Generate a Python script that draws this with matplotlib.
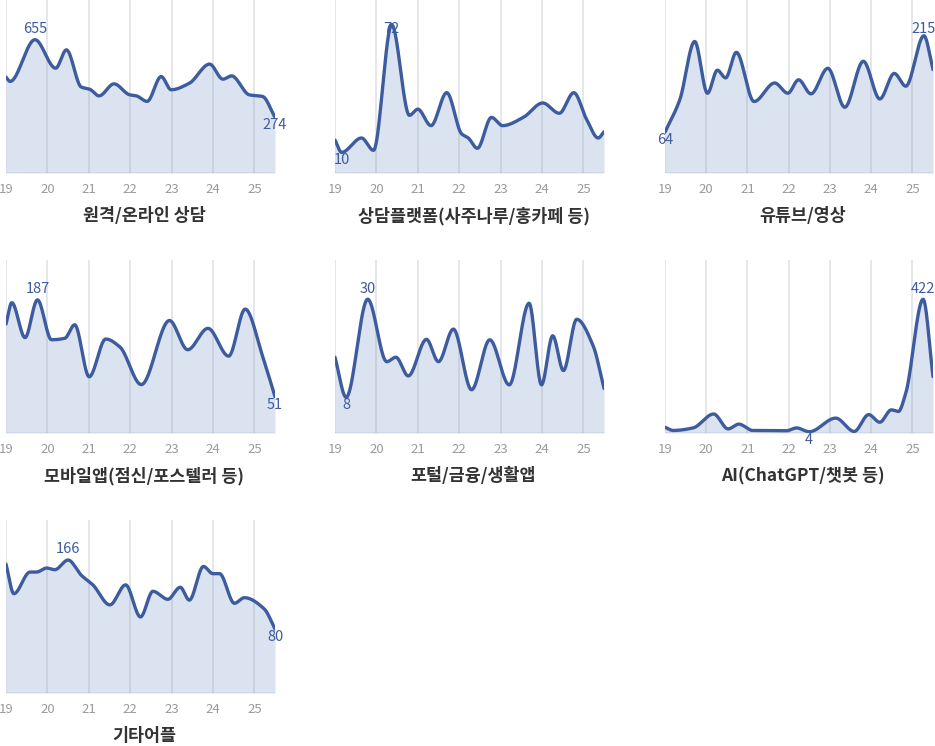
import numpy as np
import matplotlib
matplotlib.use('Agg')
import matplotlib.pyplot as plt
import matplotlib.transforms as mtransforms

plt.rcParams['font.family'] = ['Noto Sans CJK KR', 'DejaVu Sans']

# panel titles
titles = ['원격/온라인 상담', '상담플랫폼(사주나루/홍카페 등)', '유튜브/영상',
          '모바일앱(점신/포스텔러 등)', '포털/금융/생활앱', 'AI(ChatGPT/챗봇 등)',
          '기타어플']

# time (year, 19 = 2019) and values
t_remote = [19.0, 19.10, 19.70, 20.20, 20.46, 20.82, 21.02, 21.25, 21.61, 21.99, 22.15,
            22.41, 22.75, 22.99, 23.43, 23.92, 24.24, 24.45, 24.88, 25.20, 25.5]
v_remote = [471, 450, 655, 515, 605, 422, 412, 379, 438, 384, 379,
            352, 474, 409, 441, 535, 461, 477, 384, 376, 274]

t_platform = [19.0, 19.16, 19.64, 19.93, 20.37, 20.80, 21.0, 21.32, 21.70, 22.06, 22.22,
              22.44, 22.78, 23.05, 23.55, 24.02, 24.42, 24.77, 25.08, 25.36, 25.5]
v_platform = [16, 10, 17, 11, 72, 28, 31, 23, 39, 19, 17,
              12, 27, 23, 27, 34, 29, 39, 26, 17, 20]

t_youtube = [19.0, 19.36, 19.72, 20.03, 20.27, 20.47, 20.73, 21.16, 21.66, 21.98,
             22.24, 22.54, 22.95, 23.36, 23.81, 24.21, 24.56, 24.84, 25.28, 25.5]
v_youtube = [64, 115, 206, 125, 161, 149, 189, 112, 141, 125,
             146, 124, 164, 103, 175, 116, 156, 136, 215, 162]

t_mobile = [19.0, 19.14, 19.46, 19.76, 20.10, 20.42, 20.66, 21.01, 21.41, 21.75,
            22.27, 22.95, 23.39, 23.88, 24.38, 24.78, 25.2, 25.5]
v_mobile = [153, 183, 134, 187, 131, 133, 152, 79, 132, 121,
            68, 158, 117, 147, 108, 174, 108, 51]

t_portal = [19.0, 19.27, 19.79, 20.25, 20.47, 20.77, 21.21, 21.50, 21.86, 22.30,
            22.74, 23.21, 23.69, 23.99, 24.26, 24.52, 24.84, 25.24, 25.5]
v_portal = [17, 8, 30, 16, 17, 12.8, 21, 16, 23.3, 9.7,
            20.9, 10.8, 29.1, 10.8, 21.8, 14, 25.5, 19.5, 10]

t_ai = [19.0, 19.2, 19.68, 20.18, 20.53, 20.79, 21.13, 21.53, 21.94, 22.19, 22.5,
        23.14, 23.59, 23.94, 24.21, 24.49, 24.66, 24.84, 25.26, 25.5]
v_ai = [18, 8, 16, 60, 13, 28, 8, 8, 7, 16, 4,
        47, 5, 58, 34, 73, 68, 126, 422, 178]

t_other = [19.0, 19.19, 19.58, 19.74, 19.98, 20.18, 20.50, 20.82, 21.10, 21.51, 21.89,
           22.25, 22.55, 22.91, 23.21, 23.43, 23.77, 24.0, 24.16, 24.52, 24.76, 25.24, 25.5]
v_other = [161, 124, 151, 151, 156, 154, 166, 147, 135, 110, 135,
           95, 127, 117, 132, 116, 158, 149, 149, 112, 119, 105, 80]

times = [t_remote, t_platform, t_youtube, t_mobile, t_portal, t_ai, t_other]
values = [v_remote, v_platform, v_youtube, v_mobile, v_portal, v_ai, v_other]
y_tops = [850, 84, 271, 243, 38.8, 546, 216]

years = [19, 20, 21, 22, 23, 24, 25]

LINE = '#3d5c9e'
FILL = '#dce3f0'


def pchip(x, y, xs):
    # monotone cubic (Fritsch-Carlson) for a smooth curve through the points
    x = np.asarray(x, float)
    y = np.asarray(y, float)
    h = np.diff(x)
    d = np.diff(y) / h
    m = np.zeros_like(y)
    m[0] = d[0]
    m[-1] = d[-1]
    for k in range(1, len(x) - 1):
        if d[k - 1] * d[k] > 0:
            w1 = 2 * h[k] + h[k - 1]
            w2 = h[k] + 2 * h[k - 1]
            m[k] = (w1 + w2) / (w1 / d[k - 1] + w2 / d[k])
    idx = np.clip(np.searchsorted(x, xs) - 1, 0, len(x) - 2)
    hk = h[idx]
    s = (xs - x[idx]) / hk
    h00 = 2 * s**3 - 3 * s**2 + 1
    h10 = s**3 - 2 * s**2 + s
    h01 = -2 * s**3 + 3 * s**2
    h11 = s**3 - s**2
    return h00 * y[idx] + h10 * hk * m[idx] + h01 * y[idx + 1] + h11 * hk * m[idx + 1]


W, H = 935, 746
fig = plt.figure(figsize=(W / 100, H / 100), dpi=100)

col_left = [6, 335, 665]
col_width = [269, 269, 268]
row_top = [0, 260, 520]
ax_h = 173

for i in range(7):
    r, c = divmod(i, 3)
    left = col_left[c] / W
    bottom = 1 - (row_top[r] + ax_h) / H
    ax = fig.add_axes([left, bottom, col_width[c] / W, ax_h / H])

    t = np.array(times[i])
    v = np.array(values[i])
    xs = np.linspace(t[0], t[-1], 600)
    ys = pchip(t, v, xs)

    ax.fill_between(xs, 0, ys, color=FILL, lw=0, zorder=1)
    ax.plot(xs, ys, color=LINE, lw=2.4, zorder=4, solid_capstyle='round')
    ax.plot([t[0], t[-1]], [0, 0], color='#cdd6e8', lw=1.2, zorder=2)
    for yr in years:
        ax.axvline(yr, color='#7a8296', alpha=0.22, lw=1.2, zorder=2)

    imax = int(np.argmax(v))
    imin = int(np.argmin(v))
    # max label sits at a fixed height near the top of each panel
    trans = mtransforms.blended_transform_factory(ax.transData, ax.transAxes)
    ax.text(t[imax], 1 - 29 / ax_h, f'{v[imax]:g}', transform=trans,
            ha='center', va='center', fontsize=10.5, color=LINE, zorder=3)
    ax.annotate(f'{v[imin]:g}', (t[imin], v[imin]), xytext=(0, -8),
                textcoords='offset pixels', ha='center', va='center',
                fontsize=10.5, color=LINE, zorder=3, annotation_clip=False)

    ax.set_xlim(19, 25.5)
    ax.set_ylim(0, y_tops[i])
    ax.set_xticks(years)
    ax.set_xticklabels([str(y) for y in years])
    ax.tick_params(axis='x', length=0, pad=7, labelsize=9.5, labelcolor='#9a9a9a')
    ax.set_yticks([])
    for sp in ax.spines.values():
        sp.set_visible(False)
    ax.patch.set_alpha(0)

    ax.annotate(titles[i], (0.5, 0), xycoords='axes fraction', xytext=(4, -43),
                textcoords='offset pixels', ha='center', va='center',
                fontsize=12.5, fontweight='bold', color='#333333')

fig.savefig('out.png', dpi=100)
